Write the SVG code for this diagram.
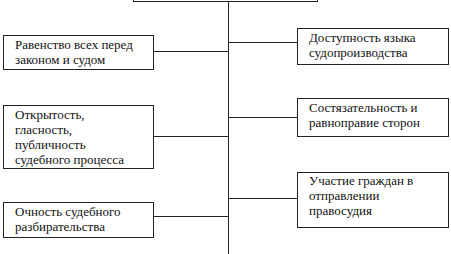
<svg xmlns="http://www.w3.org/2000/svg" width="451" height="254" viewBox="0 0 451 254">
<style>
.box{fill:#fff;stroke:#222;stroke-width:1}
.ln{stroke:#222;stroke-width:1;fill:none}
.t{font-family:'Liberation Serif','Times New Roman','DejaVu Serif',serif;font-size:13px;fill:#111}
</style>
<rect width="451" height="254" fill="#fff"/>
<g id="connectors">
<line class="ln" x1="228.5" y1="0" x2="228.5" y2="254"/>
<line class="ln" x1="154" y1="51.5" x2="228.5" y2="51.5"/>
<line class="ln" x1="154" y1="136.5" x2="228.5" y2="136.5"/>
<line class="ln" x1="154" y1="216.5" x2="228.5" y2="216.5"/>
<line class="ln" x1="228.5" y1="42.5" x2="297" y2="42.5"/>
<line class="ln" x1="228.5" y1="117.5" x2="297" y2="117.5"/>
<line class="ln" x1="228.5" y1="198.5" x2="297" y2="198.5"/>
</g>
<g id="top">
<rect class="box" x="133.5" y="-10" width="184" height="11.5"/>
</g>
<g id="n1" class="t">
<rect class="box" x="3.5" y="35.5" width="150" height="34"/>
<text x="15" y="49">Равенство всех перед</text>
<text x="15" y="64">законом и судом</text>
</g>
<g id="n2" class="t">
<rect class="box" x="3.5" y="105.5" width="150" height="63"/>
<text x="15" y="118.5">Открытость,</text>
<text x="15" y="133.5">гласность,</text>
<text x="15" y="148.5">публичность</text>
<text x="15" y="163.5">судебного процесса</text>
</g>
<g id="n3" class="t">
<rect class="box" x="3.5" y="202.5" width="150" height="35"/>
<text x="15" y="216">Очность судебного</text>
<text x="15" y="231">разбирательства</text>
</g>
<g id="n4" class="t">
<rect class="box" x="297.5" y="28.5" width="151" height="36"/>
<text x="309" y="42">Доступность языка</text>
<text x="309" y="57">судопроизводства</text>
</g>
<g id="n5" class="t">
<rect class="box" x="297.5" y="98.5" width="151" height="38"/>
<text x="309" y="111.5">Состязательность и</text>
<text x="309" y="127">равноправие сторон</text>
</g>
<g id="n6" class="t">
<rect class="box" x="297.5" y="172.5" width="151" height="55"/>
<text x="309" y="184.5">Участие граждан в</text>
<text x="309" y="200">отправлении</text>
<text x="309" y="215">правосудия</text>
</g>
</svg>
